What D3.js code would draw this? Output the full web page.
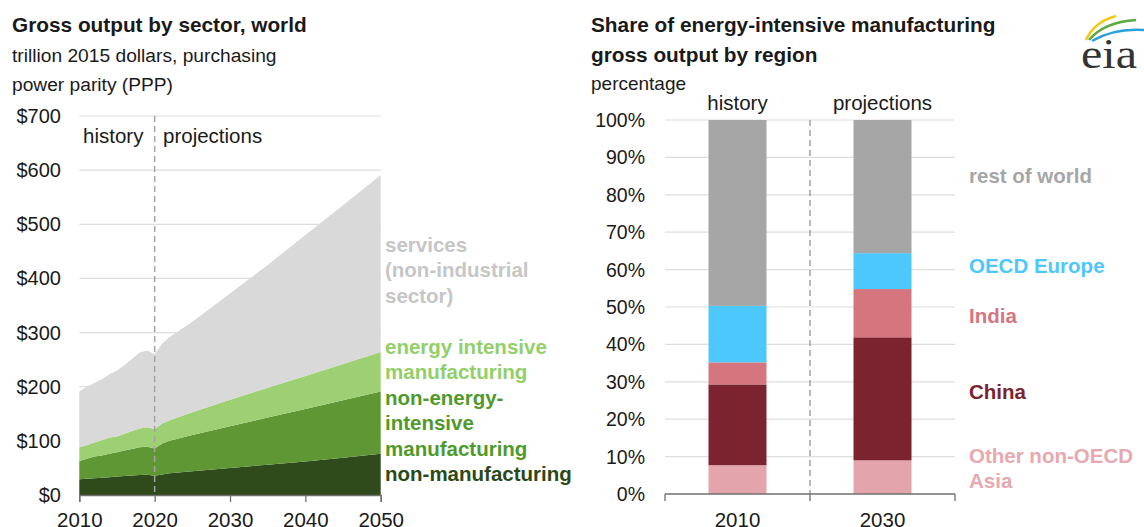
<!DOCTYPE html>
<html>
<head>
<meta charset="utf-8">
<script src="https://cdn.jsdelivr.net/npm/d3@7"></script>
<style>
  html, body { margin: 0; padding: 0; background: #fff; }
  svg { display: block; font-family: "Liberation Sans", Arial, sans-serif; }
</style>
</head>
<body>
<svg id="chart" width="1144" height="527"></svg>
<script>
// left panel: gross output by sector, trillion 2015 dollars (PPP)
const years = [2010, 2011, 2012, 2013, 2014, 2015, 2016, 2017, 2018, 2019, 2020, 2021, 2022, 2025, 2030, 2035, 2040, 2045, 2050]
const nonManufacturing = [29, 30, 31, 32, 33, 34, 35, 36, 37, 37.5, 35.5, 38, 40, 44, 50, 56, 62, 69, 76]
const nonEnergyIntensive = [34, 37, 40, 41, 43, 45, 47, 49, 51, 51.5, 50.5, 57, 60, 67, 77, 87, 97, 106, 115]
const energyIntensive = [25, 25, 26, 28, 30, 29, 31, 33, 35, 36, 36, 37, 38, 42, 49, 55, 61, 67, 73]
const services = [103, 108, 110, 113, 117, 122, 127, 133, 140, 142, 138, 148, 154, 167, 196, 227, 260, 293, 327]
const sectorKeys = ['nonManufacturing', 'nonEnergyIntensive', 'energyIntensive', 'services']
const leftYTicks = [0, 100, 200, 300, 400, 500, 600, 700]
const leftXTicks = [2010, 2020, 2030, 2040, 2050]

// right panel: share of energy-intensive manufacturing gross output, percent
const barYears = ['2010', '2030']
const regions = ['otherAsia', 'china', 'india', 'oecdEurope', 'restOfWorld']
const share2010 = [7.7, 21.6, 5.9, 15.1, 49.7]
const share2030 = [9.0, 32.9, 12.9, 9.6, 35.6]
const rightYTicks = [0, 10, 20, 30, 40, 50, 60, 70, 80, 90, 100]

const SECTOR_FILL = {
  nonManufacturing: '#2f4a1b',
  nonEnergyIntensive: '#5e9733',
  energyIntensive: '#9dd073',
  services: '#d9d9d9',
}
const REGION_FILL = {
  otherAsia: '#e3a4ab',
  china: '#7b2430',
  india: '#d5767f',
  oecdEurope: '#4dc8fd',
  restOfWorld: '#a6a6a6',
}
const GRID = '#dedede'
const AXIS = '#6f6f6f'
const TEXT = '#1a1a1a'

const svg = d3.select('#chart')

// ---------- left: stacked area ----------
const x = d3.scaleLinear().domain([2010, 2050]).range([79.3, 380.7])
const y = d3.scaleLinear().domain([0, 700]).range([495, 116])

const rows = years.map((yr, i) => ({
  year: yr,
  nonManufacturing: nonManufacturing[i],
  nonEnergyIntensive: nonEnergyIntensive[i],
  energyIntensive: energyIntensive[i],
  services: services[i],
}))
const stacked = d3.stack().keys(sectorKeys)(rows)

const left = svg.append('g')

left.append('g')
  .selectAll('line')
  .data(leftYTicks.filter((d) => d > 0))
  .join('line')
  .attr('x1', x(2010)).attr('x2', x(2050))
  .attr('y1', (d) => y(d)).attr('y2', (d) => y(d))
  .attr('stroke', GRID).attr('stroke-width', 1.2)

const area = d3.area()
  .x((d) => x(d.data.year))
  .y0((d) => y(d[0]))
  .y1((d) => y(d[1]))

left.append('g')
  .selectAll('path')
  .data(stacked)
  .join('path')
  .attr('d', area)
  .attr('fill', (d) => SECTOR_FILL[d.key])

left.append('line')
  .attr('x1', x(2020)).attr('x2', x(2020))
  .attr('y1', y(700)).attr('y2', y(0))
  .attr('stroke', '#a3a3a3').attr('stroke-width', 1.5)
  .attr('stroke-dasharray', '6 4')

const xAxis = left.append('g')
  .attr('transform', `translate(0,${y(0)})`)
  .call(d3.axisBottom(x).tickValues(leftXTicks).tickFormat(d3.format('d')).tickSize(7).tickPadding(10))
xAxis.select('.domain').attr('stroke', AXIS).attr('stroke-width', 1.3)
xAxis.selectAll('.tick line').attr('stroke', AXIS).attr('stroke-width', 1.3)
xAxis.selectAll('text').attr('font-size', 20.5).attr('fill', TEXT)
  .attr('font-family', '"Liberation Sans", Arial, sans-serif')

left.append('g')
  .selectAll('text')
  .data(leftYTicks)
  .join('text')
  .attr('x', 61)
  .attr('y', (d) => y(d) + 7)
  .attr('text-anchor', 'end')
  .attr('font-size', 20)
  .attr('fill', TEXT)
  .text((d) => `$${d}`)

left.append('text').attr('x', 83).attr('y', 143).attr('font-size', 20.5).attr('fill', TEXT).text('history')
left.append('text').attr('x', 163).attr('y', 143).attr('font-size', 20.5).attr('fill', TEXT).text('projections')

left.append('text').attr('x', 12).attr('y', 32).attr('font-size', 20.8).attr('font-weight', 'bold').attr('fill', TEXT)
  .text('Gross output by sector, world')
left.append('text').attr('x', 12).attr('y', 62).attr('font-size', 19.2).attr('fill', TEXT)
  .text('trillion 2015 dollars, purchasing')
left.append('text').attr('x', 12).attr('y', 91).attr('font-size', 19.2).attr('fill', TEXT)
  .text('power parity (PPP)')

const sectorLabels = [
  { lines: ['services', '(non-industrial', 'sector)'], color: '#c6c6c6', y: 252 },
  { lines: ['energy intensive', 'manufacturing'], color: '#92cf69', y: 354 },
  { lines: ['non-energy-', 'intensive', 'manufacturing'], color: '#4f9a2a', y: 405 },
  { lines: ['non-manufacturing'], color: '#2b4916', y: 481 },
]
sectorLabels.forEach((lab) => {
  const t = left.append('text')
    .attr('x', 385).attr('y', lab.y)
    .attr('font-size', 20.5).attr('font-weight', 'bold')
    .attr('fill', lab.color)
  lab.lines.forEach((ln, i) => {
    t.append('tspan').attr('x', 385).attr('dy', i === 0 ? 0 : 25.3).text(ln)
  })
})

// ---------- right: stacked bars ----------
const bx = d3.scaleBand().domain(barYears).range([665, 955]).paddingInner(0.6).paddingOuter(0.3)
const by = d3.scaleLinear().domain([0, 100]).range([494, 120])

const barRows = barYears.map((yr, i) => {
  const src = i === 0 ? share2010 : share2030
  const row = { year: yr }
  regions.forEach((r, j) => { row[r] = src[j] })
  return row
})
const barStack = d3.stack().keys(regions)(barRows)

const right = svg.append('g')

right.append('g')
  .selectAll('line')
  .data(rightYTicks.filter((d) => d > 0))
  .join('line')
  .attr('x1', 665).attr('x2', 955)
  .attr('y1', (d) => by(d)).attr('y2', (d) => by(d))
  .attr('stroke', GRID).attr('stroke-width', 1.2)

const divider = bx('2010') + bx.bandwidth() + (bx.step() - bx.bandwidth()) / 2

right.append('line')
  .attr('x1', divider).attr('x2', divider)
  .attr('y1', by(100)).attr('y2', by(0))
  .attr('stroke', '#a3a3a3').attr('stroke-width', 1.5)
  .attr('stroke-dasharray', '6 4')

right.append('g')
  .selectAll('g')
  .data(barStack)
  .join('g')
  .attr('fill', (d) => REGION_FILL[d.key])
  .selectAll('rect')
  .data((d) => d)
  .join('rect')
  .attr('x', (d) => bx(d.data.year))
  .attr('width', bx.bandwidth())
  .attr('y', (d) => by(d[1]))
  .attr('height', (d) => by(d[0]) - by(d[1]))

right.append('line')
  .attr('x1', 665).attr('x2', 955)
  .attr('y1', by(0)).attr('y2', by(0))
  .attr('stroke', AXIS).attr('stroke-width', 1.3)
right.append('g')
  .selectAll('line')
  .data([bx.range()[0], divider, bx.range()[1]])
  .join('line')
  .attr('x1', (d) => d).attr('x2', (d) => d)
  .attr('y1', by(0)).attr('y2', by(0) + 7)
  .attr('stroke', AXIS).attr('stroke-width', 1.3)

right.append('g')
  .selectAll('text')
  .data(barYears)
  .join('text')
  .attr('x', (d) => bx(d) + bx.bandwidth() / 2)
  .attr('y', 527)
  .attr('text-anchor', 'middle')
  .attr('font-size', 20.5)
  .attr('fill', TEXT)
  .text((d) => d)

right.append('g')
  .selectAll('text')
  .data(rightYTicks)
  .join('text')
  .attr('x', 645)
  .attr('y', (d) => by(d) + 7)
  .attr('text-anchor', 'end')
  .attr('font-size', 19.5)
  .attr('fill', TEXT)
  .text((d) => `${d}%`)

right.append('text').attr('x', bx('2010') + bx.bandwidth() / 2).attr('y', 110)
  .attr('text-anchor', 'middle').attr('font-size', 20.5).attr('fill', TEXT).text('history')
right.append('text').attr('x', bx('2030') + bx.bandwidth() / 2).attr('y', 110)
  .attr('text-anchor', 'middle').attr('font-size', 20.5).attr('fill', TEXT).text('projections')

right.append('text').attr('x', 591).attr('y', 32).attr('font-size', 20.8).attr('font-weight', 'bold').attr('fill', TEXT)
  .text('Share of energy-intensive manufacturing')
right.append('text').attr('x', 591).attr('y', 62).attr('font-size', 20.8).attr('font-weight', 'bold').attr('fill', TEXT)
  .text('gross output by region')
right.append('text').attr('x', 591).attr('y', 90).attr('font-size', 19).attr('fill', TEXT)
  .text('percentage')

const regionLabels = [
  { lines: ['rest of world'], color: '#a6a6a6', y: 183 },
  { lines: ['OECD Europe'], color: '#4dc8fd', y: 273 },
  { lines: ['India'], color: '#d5767f', y: 323 },
  { lines: ['China'], color: '#7b2430', y: 399 },
  { lines: ['Other non-OECD', 'Asia'], color: '#e8a8b0', y: 463 },
]
regionLabels.forEach((lab) => {
  const t = right.append('text')
    .attr('x', 969).attr('y', lab.y)
    .attr('font-size', 20.5).attr('font-weight', 'bold')
    .attr('fill', lab.color)
  lab.lines.forEach((ln, i) => {
    t.append('tspan').attr('x', 969).attr('dy', i === 0 ? 0 : 24.5).text(ln)
  })
})

// ---------- eia logo ----------
const logo = svg.append('g')
logo.append('path').attr('d', 'M1086,40 Q1094,22 1116,16').attr('fill', 'none').attr('stroke', '#f2c81b').attr('stroke-width', 2.5)
logo.append('path').attr('d', 'M1089,40 Q1104,22 1136,20').attr('fill', 'none').attr('stroke', '#5aaa3c').attr('stroke-width', 2.5)
logo.append('path').attr('d', 'M1092,41 Q1114,28 1144,30').attr('fill', 'none').attr('stroke', '#2b9fd9').attr('stroke-width', 2.5)
logo.append('text').attr('x', 1081).attr('y', 68)
  .attr('font-family', '"Liberation Serif", "DejaVu Serif", serif')
  .attr('font-size', 42).attr('fill', '#333')
  .attr('textLength', 56).attr('lengthAdjust', 'spacingAndGlyphs')
  .text('eia')
</script>
</body>
</html>
